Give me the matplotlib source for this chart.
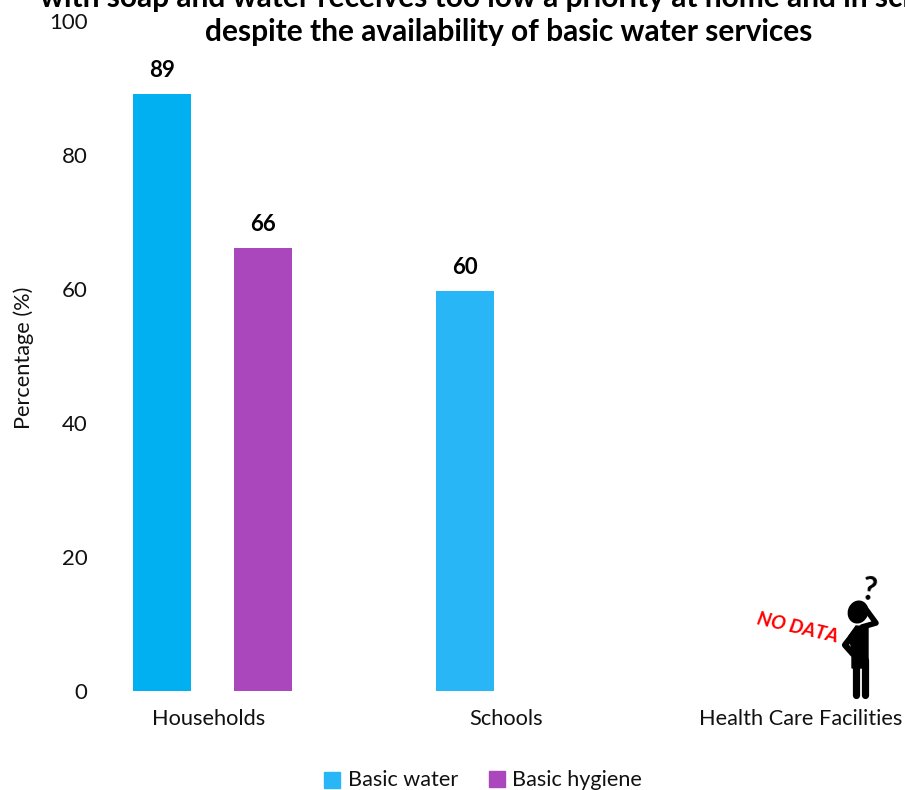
import numpy as np
import matplotlib.pyplot as plt
from matplotlib.patches import Ellipse, Polygon, Rectangle

plt.rcParams['font.family'] = ['Lato', 'DejaVu Sans']

categories = ['Households', 'Schools', 'Health Care Facilities']
water_values = [89.1, 59.7]
hygiene_values = [66.1]
water_colors = ['#00B0F0', '#29B6F6']
hygiene_color = '#AB47BC'
y_ticks = [0, 20, 40, 60, 80, 100]

W, H = 905, 790
fig = plt.figure(figsize=(W / 100, H / 100), dpi=100)

# axes placed so that 0 is at pixel 691 and 100 at pixel 21
ax = fig.add_axes([61 / W, 1 - 691 / H, (W - 61) / W, 670 / H])
ax.set_ylim(0, 100)
ax.set_xlim(-0.5, 2.285)

bar_w = 0.191
off = 0.167
for i, v in enumerate(water_values):
    ax.bar(i - off, v, bar_w, color=water_colors[i])
    ax.text(i - off, v + 3.55, f'{v:.0f}', ha='center', va='center', fontsize=16, fontweight='bold')
for i, v in enumerate(hygiene_values):
    ax.bar(i + off, v, bar_w, color=hygiene_color)
    ax.text(i + off, v + 3.55, f'{v:.0f}', ha='center', va='center', fontsize=16, fontweight='bold')

for s in ax.spines.values():
    s.set_visible(False)
ax.set_yticks(y_ticks)
ax.set_xticks([-0.012, 0.97, 1.94])
ax.set_xticklabels(categories, fontsize=15.7, color='#111111')
ax.tick_params(axis='both', length=0)
ax.tick_params(axis='y', labelsize=16, pad=-19, labelcolor='#111111')
ax.tick_params(axis='x', pad=13)
ax.set_ylabel('Percentage (%)', fontsize=15.7, color='#111111')
ax.yaxis.set_label_coords(-27 / (W - 61), 0.497)

# overlay in pixel coordinates for title, legend and the icon
ov = fig.add_axes([0, 0, 1, 1])
ov.set_xlim(0, W)
ov.set_ylim(H, 0)
ov.axis('off')
ov.patch.set_alpha(0)

ov.text(40, 7, 'with soap and water receives too low a priority at home and in schools,',
        ha='left', va='baseline', fontsize=21.5, fontweight='bold', clip_on=False)
ov.text(509, 41, 'despite the availability of basic water services',
        ha='center', va='baseline', fontsize=21.5, fontweight='bold')

ov.add_patch(Rectangle((324, 772), 16, 16, color=water_colors[1]))
ov.text(348, 780, 'Basic water', ha='left', va='center', fontsize=15.6, color='#111111')
ov.add_patch(Rectangle((489, 771), 16, 16, color=hygiene_color))
ov.text(512, 780, 'Basic hygiene', ha='left', va='center', fontsize=15.6, color='#111111')

ov.text(798, 628, 'NO DATA', ha='center', va='center', fontsize=14, fontweight='bold',
        fontstyle='italic', color='#FF0000', rotation=-13)
ov.text(869, 591, '?', ha='center', va='center', fontsize=23, fontweight='bold', rotation=-8)

# person icon
ov.add_patch(Ellipse((858, 612), 19, 22, angle=20, color='black'))
ov.add_patch(Polygon([(849, 636), (856, 626), (868, 627), (868, 668), (852, 668), (852, 650)], color='black'))
ov.plot([855.5, 855.5], [660, 695], color='black', lw=5.2, solid_capstyle='round')
ov.plot([864.5, 864.5], [660, 695], color='black', lw=5.2, solid_capstyle='round')
ov.plot([856, 845, 853], [631, 645, 654], color='black', lw=4.5, solid_capstyle='round',
        solid_joinstyle='round')
ov.plot([862, 876, 865], [627, 623, 608], color='black', lw=4, solid_capstyle='round',
        solid_joinstyle='round')

fig.savefig('out.png', dpi=100)
